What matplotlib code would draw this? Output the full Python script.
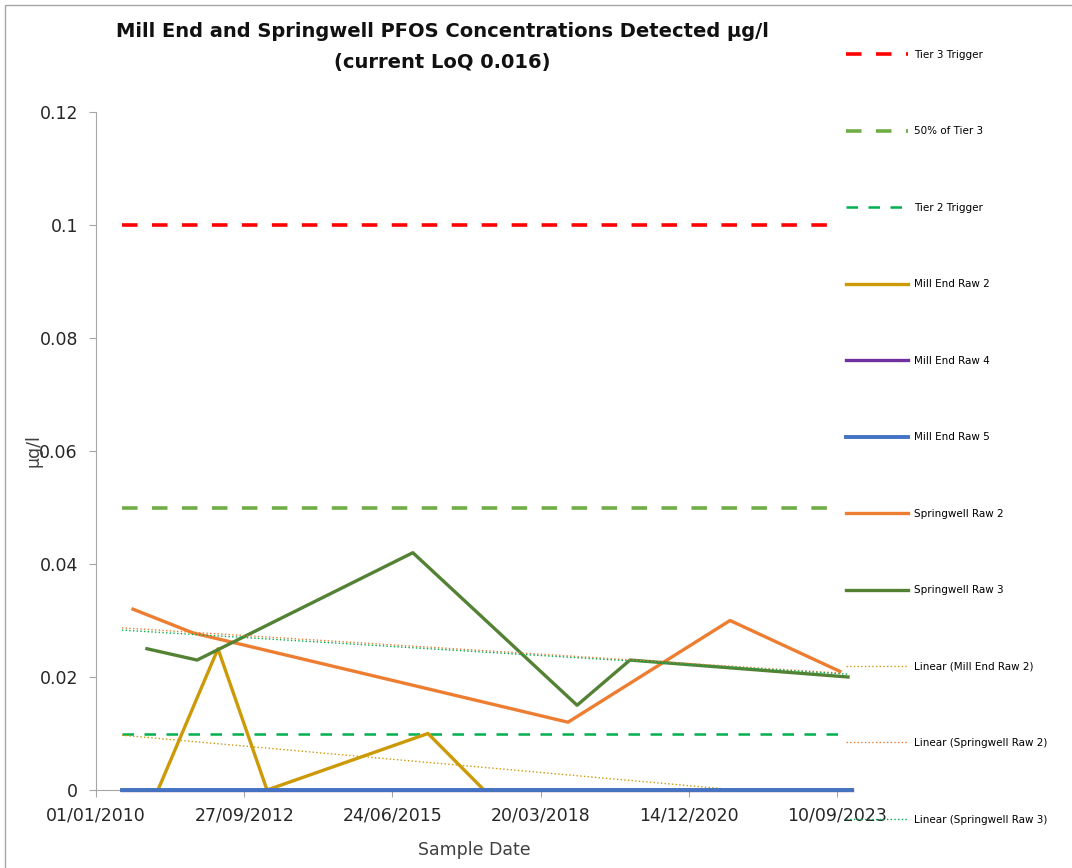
import pandas as pd
import matplotlib.pyplot as plt
import matplotlib.dates as mdates
from matplotlib.patches import Rectangle

# Threshold levels (ug/l) and span of dates they are drawn over
threshold_dates = ['2010-06-25', '2023-09-22']
tier3_trigger = [0.1, 0.1]
tier3_half = [0.05, 0.05]
tier2_trigger = [0.01, 0.01]

# Mill End Raw 2
mill2_dates = ['2010-06-25', '2011-02-23', '2012-04-03', '2013-02-28', '2016-02-19', '2017-03-03', '2023-12-19']
mill2_vals = [0.0, 0.0, 0.025, 0.0, 0.01, 0.0, 0.0]

# Mill End Raw 4 / Raw 5 (all below LoQ)
mill4_dates = ['2010-06-25', '2023-12-19']
mill4_vals = [0.0, 0.0]
mill5_dates = ['2010-06-25', '2023-12-19']
mill5_vals = [0.0, 0.0]

# Springwell Raw 2
spr2_dates = ['2010-09-08', '2011-10-18', '2018-09-21', '2021-09-18', '2023-09-29']
spr2_vals = [0.032, 0.0278, 0.012, 0.030, 0.021]

# Springwell Raw 3
spr3_dates = ['2010-12-11', '2011-11-14', '2015-11-09', '2018-11-21', '2019-11-13', '2023-11-23']
spr3_vals = [0.025, 0.023, 0.042, 0.015, 0.023, 0.020]

# Linear trend lines (start / end)
trend_mill2_dates = ['2010-06-25', '2023-12-19']
trend_mill2_vals = [0.0097, -0.0018]
trend_spr2_dates = ['2010-06-25', '2023-09-29']
trend_spr2_vals = [0.0287, 0.0207]
trend_spr3_dates = ['2010-06-25', '2023-11-23']
trend_spr3_vals = [0.0283, 0.0205]

tick_dates = ['2010-01-01', '2012-09-27', '2015-06-24', '2018-03-20', '2020-12-14', '2023-09-10']
y_ticks = [0, 0.02, 0.04, 0.06, 0.08, 0.1, 0.12]
y_tick_labels = ['0', '0.02', '0.04', '0.06', '0.08', '0.1', '0.12']

d = pd.to_datetime

plt.rcParams['font.family'] = ['DejaVu Sans']

fig = plt.figure(figsize=(10.72, 8.68), dpi=100)
ax = fig.add_axes([96 / 1072, 1 - 790 / 868, (852 - 96) / 1072, (790 - 112) / 868])

# thresholds
ax.plot(d(threshold_dates), tier3_trigger, color='#FF0000', lw=2.6, dashes=(4.3, 4.0), label='Tier 3 Trigger')
ax.plot(d(threshold_dates), tier3_half, color='#70AD47', lw=2.6, dashes=(4.3, 4.0), label='50% of Tier 3')
ax.plot(d(threshold_dates), tier2_trigger, color='#00B050', lw=1.8, dashes=(4.6, 4.2), label='Tier 2 Trigger')

# series
ax.plot(d(mill2_dates), mill2_vals, color='#CC9A06', lw=2.4, label='Mill End Raw 2', zorder=4, clip_on=False)
ax.plot(d(mill4_dates), mill4_vals, color='#7030A0', lw=2.4, label='Mill End Raw 4', zorder=3, clip_on=False)
ax.plot(d(mill5_dates), mill5_vals, color='#4472C4', lw=2.8, label='Mill End Raw 5', zorder=7, clip_on=False)
ax.plot(d(spr2_dates), spr2_vals, color='#ED7D31', lw=2.4, label='Springwell Raw 2', zorder=4)
ax.plot(d(spr3_dates), spr3_vals, color='#548235', lw=2.4, label='Springwell Raw 3', zorder=4)

# trend lines
ax.plot(d(trend_mill2_dates), trend_mill2_vals, color='#CC9A06', lw=1.0, ls=':', label='Linear (Mill End Raw 2)', zorder=6)
ax.plot(d(trend_spr2_dates), trend_spr2_vals, color='#ED7D31', lw=1.0, ls=':', label='Linear (Springwell Raw 2)', zorder=6)
ax.plot(d(trend_spr3_dates), trend_spr3_vals, color='#00B050', lw=1.0, ls=':', label='Linear (Springwell Raw 3)', zorder=6)

ax.set_ylim(0, 0.12)
ax.set_xlim(d('2010-01-01'), d('2023-12-20'))
ax.set_yticks(y_ticks)
ax.set_yticklabels(y_tick_labels)
ax.set_xticks(d(tick_dates))
ax.xaxis.set_major_formatter(mdates.DateFormatter('%d/%m/%Y'))

for s in ['top', 'right']:
    ax.spines[s].set_visible(False)
for s in ['left', 'bottom']:
    ax.spines[s].set_color('#A6A6A6')
ax.tick_params(colors='#A6A6A6', labelcolor='#262626', labelsize=12.5, length=5)
ax.tick_params(axis='y', pad=8)
ax.tick_params(axis='x', pad=7)

ax.set_xlabel('Sample Date', fontsize=12.5, color='#404040', labelpad=12)
ax.set_ylabel('µg/l', fontsize=12.5, color='#404040', labelpad=-2)

fig.text(0.413, 0.964, 'Mill End and Springwell PFOS Concentrations Detected µg/l',
         ha='center', va='center', fontsize=14, fontweight='bold', color='#111111')
fig.text(0.413, 0.928, '(current LoQ 0.016)',
         ha='center', va='center', fontsize=14, fontweight='bold', color='#111111')

fig.legend(loc='upper left', bbox_to_anchor=(846 / 1072, 1 - 50 / 868), frameon=False,
           fontsize=7.5, handlelength=5.95, handletextpad=0.55, labelspacing=6.38,
           borderaxespad=0, borderpad=0)

fig.patches.append(Rectangle((5 / 1072, -0.1), 1.2, 1.1 - 5 / 868, transform=fig.transFigure,
                             fill=False, edgecolor='#A6A6A6', lw=1.0))

fig.savefig('out.png', dpi=100)
